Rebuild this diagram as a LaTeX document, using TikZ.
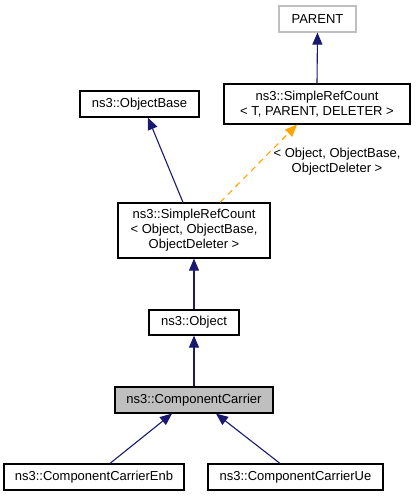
\documentclass[tikz,border=0pt]{standalone}
\usepackage{fontspec}
\setmainfont{Liberation Sans}
\usetikzlibrary{arrows.meta}
\definecolor{navy}{HTML}{191970}
\definecolor{orng}{HTML}{FFA500}
\definecolor{grayb}{HTML}{BFBFBF}
\begin{document}
\begin{tikzpicture}[x=1pt,y=-1pt,
  box/.style={draw=black,line width=1.2pt,rectangle,inner sep=0pt,align=center,font=\fontsize{13}{15}\selectfont},
  inh/.style={draw=navy,line width=1.1pt,-{Triangle[width=10pt,length=12pt,fill=navy]}},
  tmpl/.style={draw=orng,line width=1.1pt,dashed,dash pattern=on 6pt off 5pt,-{Triangle[width=10pt,length=12pt,fill=orng]}}]
\useasboundingbox (0,0) rectangle (416,496);
\node[box,draw=grayb,minimum width=77pt,minimum height=26pt] (parent) at (317.5,19) {PARENT};
\node[box,minimum width=186pt,minimum height=40pt] (srct) at (317,104) {ns3::SimpleRefCount\\< T, PARENT, DELETER >};
\node[box,minimum width=119pt,minimum height=26pt] (ob) at (139.5,104) {ns3::ObjectBase};
\node[box,minimum width=152pt,minimum height=55pt] (srco) at (194,230.5) {ns3::SimpleRefCount\\< Object, ObjectBase,\\ObjectDeleter >};
\node[box,minimum width=90pt,minimum height=25pt] (obj) at (194,322.5) {ns3::Object};
\node[box,fill=grayb,minimum width=158pt,minimum height=26pt] (cc) at (194,400) {ns3::ComponentCarrier};
\node[box,minimum width=180pt,minimum height=26pt] (enb) at (94,477) {ns3::ComponentCarrierEnb};
\node[box,minimum width=175pt,minimum height=26pt] (ue) at (295.5,477) {ns3::ComponentCarrierUe};
\draw[inh] (srct.north) -- (parent.south);
\draw[inh] ([xshift=-11pt]srco.north) -- ([xshift=8.5pt]ob.south);
\draw[tmpl] ([xshift=26pt]srco.north) -- ([xshift=-20pt]srct.south);
\node[align=center,inner sep=0pt,font=\fontsize{13}{15}\selectfont] (lbl) at (337,162) {< Object, ObjectBase,\\ObjectDeleter >};
\draw[inh] (obj.north) -- (srco.south);
\draw[inh] (cc.north) -- (obj.south);
\draw[inh] ([xshift=16pt]enb.north) -- ([xshift=-22pt]cc.south);
\draw[inh] ([xshift=-15.5pt]ue.north) -- ([xshift=22pt]cc.south);
\end{tikzpicture}
\end{document}
